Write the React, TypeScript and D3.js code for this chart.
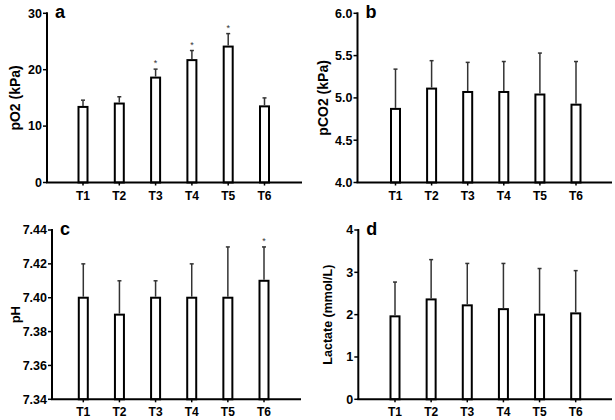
import * as d3 from 'd3';

const times = ['T1', 'T2', 'T3', 'T4', 'T5', 'T6'];

// a: pO2 (kPa)
const po2Mean = [13.4, 14.0, 18.6, 21.7, 24.1, 13.5];
const po2Sd = [1.2, 1.2, 1.5, 1.7, 2.3, 1.5];
const po2Sig = [false, false, true, true, true, false];
const po2Ticks = [0, 10, 20, 30];

// b: pCO2 (kPa)
const pco2Mean = [4.87, 5.11, 5.07, 5.07, 5.04, 4.92];
const pco2Sd = [0.47, 0.33, 0.35, 0.36, 0.49, 0.51];
const pco2Ticks = [4.0, 4.5, 5.0, 5.5, 6.0];

// c: pH
const phMean = [7.4, 7.39, 7.4, 7.4, 7.4, 7.41];
const phSd = [0.02, 0.02, 0.01, 0.02, 0.03, 0.02];
const phSig = [false, false, false, false, false, true];
const phTicks = [7.34, 7.36, 7.38, 7.4, 7.42, 7.44];

// d: Lactate (mmol/L)
const lacMean = [1.96, 2.36, 2.22, 2.13, 2.0, 2.03];
const lacSd = [0.81, 0.94, 0.99, 1.08, 1.09, 1.01];
const lacTicks = [0, 1, 2, 3, 4];

const FONT = '"Liberation Sans", Arial, sans-serif';

type PanelProps = {
  letter: string;
  title: string;
  mean: number[];
  sd: number[];
  sig?: boolean[];
  ticks: number[];
  fmt: (v: number) => string;
  left: number;
  right: number;
  top: number;
  bottom: number;
  first: number;
  last: number;
  titleX: number;
  titleSize: number;
};

function Panel(props: PanelProps) {
  const {
    letter, title, mean, sd, sig, ticks, fmt,
    left, right, top, bottom, first, last, titleX, titleSize,
  } = props;

  const x = d3.scalePoint<string>().domain(times).range([first, last]);
  const y = d3.scaleLinear()
    .domain([ticks[0], ticks[ticks.length - 1]])
    .range([bottom, top]);
  const barW = 9;

  return (
    <g>
      {/* bars */}
      {times.map((t, i) => (
        <rect
          key={t}
          x={x(t)! - barW / 2}
          y={y(mean[i])}
          width={barW}
          height={bottom - y(mean[i])}
          fill='white'
          stroke='black'
          strokeWidth={2}
        />
      ))}
      {/* error bars */}
      {times.map((t, i) => {
        const cx = x(t)!;
        const y0 = y(mean[i]);
        const y1 = y(mean[i] + sd[i]);
        return (
          <g key={t} stroke='#333' strokeWidth={1.5}>
            <line x1={cx} x2={cx} y1={y0 - 1} y2={y1} />
            <line x1={cx - 2} x2={cx + 2} y1={y1} y2={y1} />
            {sig && sig[i] && (
              <text
                x={cx}
                y={y1 - 3}
                textAnchor='middle'
                fontSize={9}
                fontFamily={FONT}
                fill='#333'
                stroke='none'
              >
                *
              </text>
            )}
          </g>
        );
      })}
      {/* y axis */}
      <line x1={left} x2={left} y1={top - 1} y2={bottom} stroke='black' strokeWidth={2} />
      {ticks.map((v) => (
        <g key={v}>
          <line x1={left - 4} x2={left} y1={y(v)} y2={y(v)} stroke='black' strokeWidth={1.5} />
          <text
            x={left - 5}
            y={y(v)}
            dy='0.35em'
            textAnchor='end'
            fontSize={12.5}
            fontWeight='bold'
            fontFamily={FONT}
          >
            {fmt(v)}
          </text>
        </g>
      ))}
      {/* x axis */}
      <line x1={left - 1} x2={right} y1={bottom} y2={bottom} stroke='black' strokeWidth={2} />
      {times.map((t) => (
        <g key={t}>
          <line x1={x(t)} x2={x(t)} y1={bottom} y2={bottom + 3} stroke='black' strokeWidth={1.5} />
          <text
            x={x(t)}
            y={bottom + 17}
            textAnchor='middle'
            fontSize={12}
            fontWeight='bold'
            fontFamily={FONT}
          >
            {t}
          </text>
        </g>
      ))}
      <text
        transform={`translate(${titleX},${(top + bottom) / 2}) rotate(-90)`}
        textAnchor='middle'
        dy='0.35em'
        fontSize={titleSize}
        fontWeight='bold'
        fontFamily={FONT}
      >
        {title}
      </text>
      <text
        x={left + 8}
        y={top + 5}
        fontSize={18}
        fontWeight='bold'
        fontFamily={FONT}
      >
        {letter}
      </text>
    </g>
  );
}

export default function App() {
  return (
    <svg
      width={615}
      height={420}
      style={{ position: 'absolute', left: 0, top: 0, background: 'white' }}
    >
      <Panel
        letter='a'
        title='pO2 (kPa)'
        mean={po2Mean}
        sd={po2Sd}
        sig={po2Sig}
        ticks={po2Ticks}
        fmt={d3.format('d')}
        left={47}
        right={302}
        top={13.3}
        bottom={182.5}
        first={83}
        last={264.5}
        titleX={15}
        titleSize={14}
      />
      <Panel
        letter='b'
        title='pCO2 (kPa)'
        mean={pco2Mean}
        sd={pco2Sd}
        ticks={pco2Ticks}
        fmt={d3.format('.1f')}
        left={357.5}
        right={612}
        top={13.3}
        bottom={182.5}
        first={395.5}
        last={576}
        titleX={323}
        titleSize={14}
      />
      <Panel
        letter='c'
        title='pH'
        mean={phMean}
        sd={phSd}
        sig={phSig}
        ticks={phTicks}
        fmt={d3.format('.2f')}
        left={52}
        right={301}
        top={230}
        bottom={399.3}
        first={83.3}
        last={264}
        titleX={15}
        titleSize={13}
      />
      <Panel
        letter='d'
        title='Lactate (mmol/L)'
        mean={lacMean}
        sd={lacSd}
        ticks={lacTicks}
        fmt={d3.format('d')}
        left={358.3}
        right={612}
        top={230}
        bottom={399.3}
        first={395}
        last={575.7}
        titleX={328}
        titleSize={12.5}
      />
    </svg>
  );
}
